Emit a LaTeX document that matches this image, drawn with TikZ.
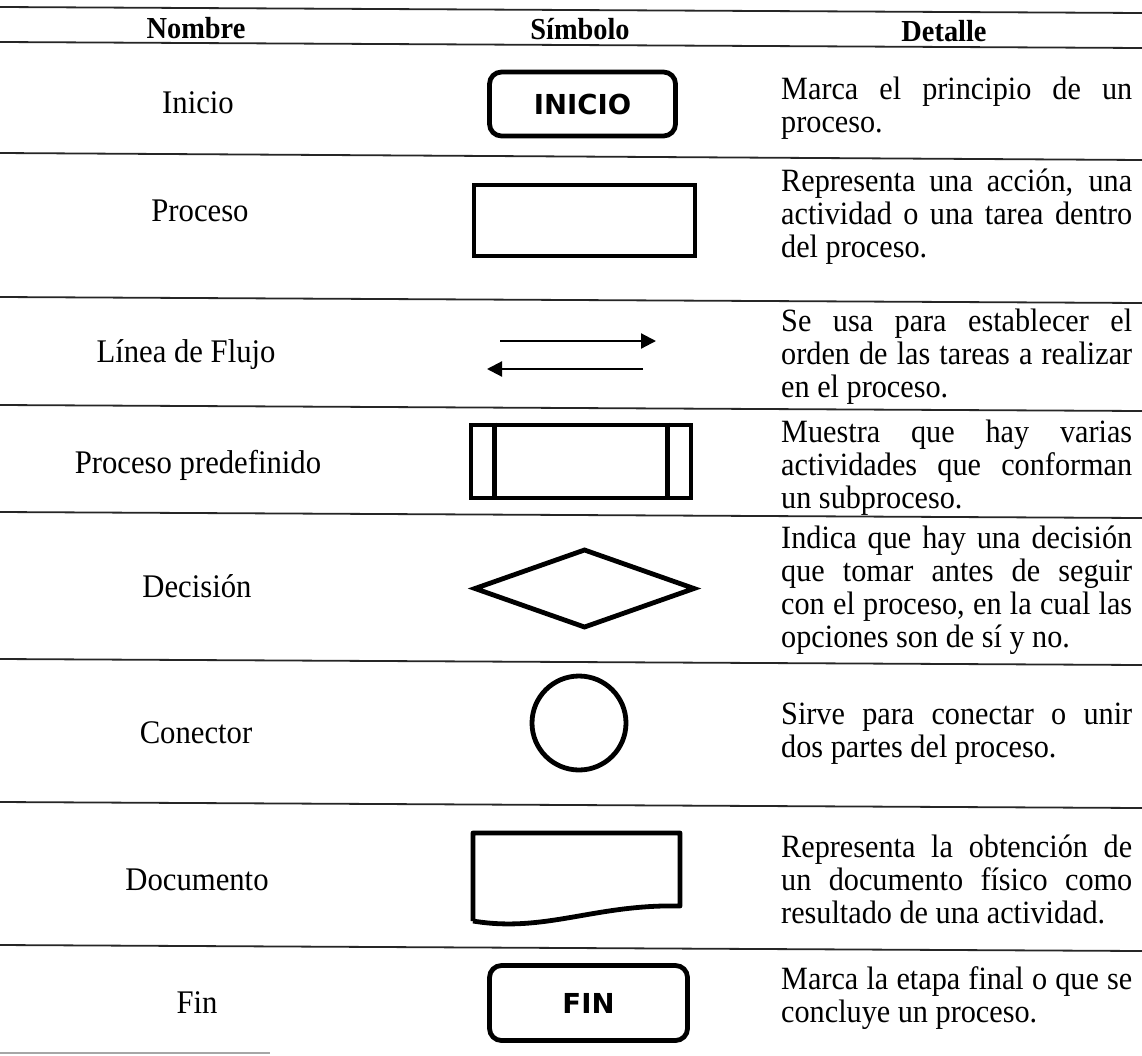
\documentclass[tikz,border=0pt]{standalone}
\usepackage{fontspec}
\setmainfont{Liberation Serif}[FakeStretch=0.93]
\newfontfamily\boxfont{DejaVu Sans}
\usetikzlibrary{arrows.meta,shapes.geometric}

% width of the justified description column
\newdimen\colw \colw=351pt
\newcommand\jline[1]{\hbox to \colw{#1}}
\newcommand\lline[1]{\hbox{#1}}
\newcommand\dblock[1]{\vtop{\baselineskip=33pt #1}}

\tikzset{
  rule/.style={draw=black!85, line width=1.8pt},
  endrule/.style={draw=black!35, line width=2.5pt},
  head/.style={anchor=base, inner sep=0pt, font=\fontsize{30.5}{33}\selectfont\bfseries},
  rowname/.style={anchor=base, inner sep=0pt, font=\fontsize{33}{33}\selectfont},
  detail/.style={anchor=base west, inner sep=0pt, font=\fontsize{32.5}{33}\selectfont},
  sym/.style={draw=black, line width=4.8pt, inner sep=0pt},
  terminal/.style={sym, rounded corners=12pt, font=\boxfont\bfseries\fontsize{27.5}{28}\selectfont},
  flow/.style={draw=black, line width=2.2pt, -{Triangle[length=15pt,width=15pt]}},
}

\begin{document}
\begin{tikzpicture}[x=1pt, y=-1pt]
\useasboundingbox (0,0) rectangle (1142,1055);
\fill[white] (0,0) rectangle (1142,1055);

% table rules (the sheet sits slightly askew)
\draw[rule] (0,7) -- (1142,13);
\draw[rule] (0,42) -- (1142,48);
\draw[rule] (0,153) -- (1142,160);
\draw[rule] (0,297) -- (1142,303);
\draw[rule] (0,405) -- (1142,411);
\draw[rule] (0,512) -- (1142,518);
\draw[rule] (0,659) -- (1142,665);
\draw[rule] (0,802) -- (1142,808);
\draw[rule] (0,945) -- (1142,951);
\draw[endrule] (0,1053) -- (270,1053);

% column headings
\node[head] (hNombre)  at (196,38) {Nombre};
\node[head] (hSimbolo) at (580,39) {Símbolo};
\node[head] (hDetalle) at (944,41) {Detalle};

% row names
\node[rowname] (nInicio)   at (198,113) {Inicio};
\node[rowname] (nProceso)  at (200,221) {Proceso};
\node[rowname] (nLinea)    at (186,362) {Línea de Flujo};
\node[rowname] (nPredef)   at (198,473) {Proceso predefinido};
\node[rowname] (nDecision) at (197,597) {Decisión};
\node[rowname] (nConector) at (196,743) {Conector};
\node[rowname] (nDoc)      at (197,890) {Documento};
\node[rowname] (nFin)      at (197,1013) {Fin};

% symbols
\node[terminal, minimum width=186pt, minimum height=64pt] (sInicio) at (582.5,104) {INICIO};
\node[sym, minimum width=221pt, minimum height=71pt] (sProceso) at (584.5,220.5) {};

\coordinate (fwdA) at (500,341);
\coordinate (fwdB) at (656,341);
\coordinate (bckA) at (643,369);
\coordinate (bckB) at (487,369);
\draw[flow] (fwdA) -- (fwdB);
\draw[flow] (bckA) -- (bckB);

\node[sym, minimum width=220pt, minimum height=73pt] (sPredef) at (581,461.5) {};
\draw[sym] ([xshift=26pt]sPredef.north west) -- ([xshift=26pt]sPredef.south west);
\draw[sym] ([xshift=-26pt]sPredef.north east) -- ([xshift=-26pt]sPredef.south east);

\node[sym, diamond, minimum width=221pt, minimum height=79pt] (sDecision) at (584.5,588.5) {};

\node[sym, circle, minimum size=94pt] (sConector) at (579,723) {};

\coordinate (docA) at (473,921);
\coordinate (docB) at (473,833);
\coordinate (docC) at (680,833);
\coordinate (docD) at (680,906);
\draw[sym, line join=round] (docA) -- (docB) -- (docC) -- (docD)
  .. controls (595,904) and (545,933) .. (docA);

\node[terminal, minimum width=198pt, minimum height=75pt] (sFin) at (588.5,1003) {FIN};

% descriptions
\node[detail] (dInicio) at (781,99) {\dblock{%
  \jline{Marca el principio de un}
  \lline{proceso.}}};
\node[detail] (dProceso) at (781,191) {\dblock{%
  \jline{Representa una acción, una}
  \jline{actividad o una tarea dentro}
  \lline{del proceso.}}};
\node[detail] (dLinea) at (781,331) {\dblock{%
  \jline{Se usa para establecer el}
  \jline{orden de las tareas a realizar}
  \lline{en el proceso.}}};
\node[detail] (dPredef) at (781,442) {\dblock{%
  \jline{Muestra que hay varias}
  \jline{actividades que conforman}
  \lline{un subproceso.}}};
\node[detail] (dDecision) at (781,548) {\dblock{%
  \jline{Indica que hay una decisión}
  \jline{que tomar antes de seguir}
  \jline{con el proceso, en la cual las}
  \lline{opciones son de sí y no.}}};
\node[detail] (dConector) at (781,724) {\dblock{%
  \jline{Sirve para conectar o unir}
  \lline{dos partes del proceso.}}};
\node[detail] (dDoc) at (781,857) {\dblock{%
  \jline{Representa la obtención de}
  \jline{un documento físico como}
  \lline{resultado de una actividad.}}};
\node[detail] (dFin) at (781,989) {\dblock{%
  \jline{Marca la etapa final o que se}
  \lline{concluye un proceso.}}};
\end{tikzpicture}
\end{document}
